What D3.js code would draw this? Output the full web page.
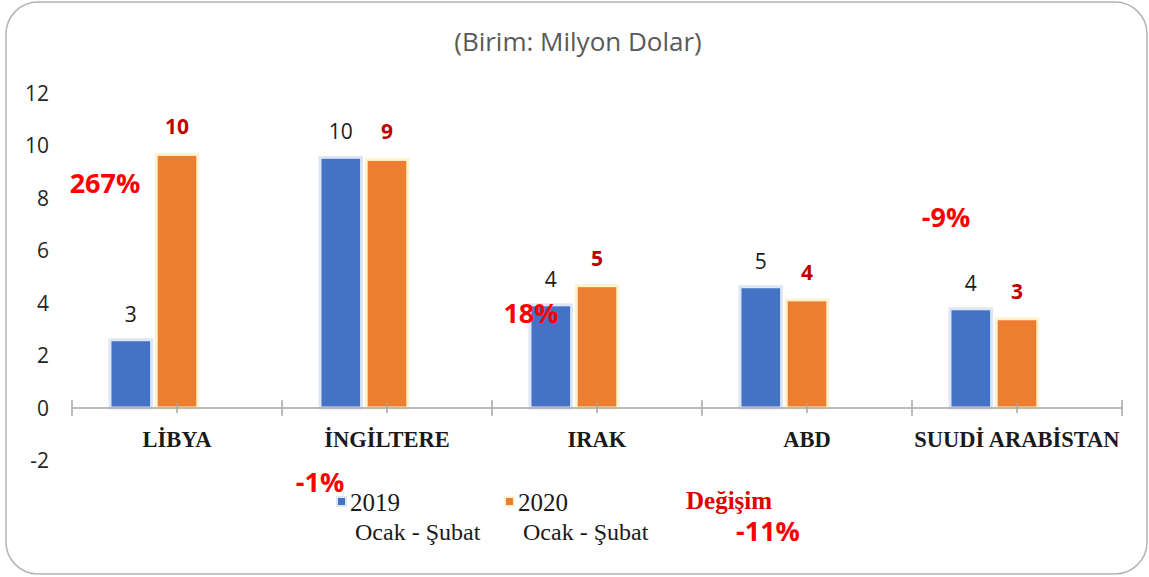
<!DOCTYPE html>
<html lang="en">
<head>
<meta charset="UTF-8">
<title>Birim: Milyon Dolar</title>
<style>
  body { margin: 0; background: #fff; }
  .sans { font-family: "Open Sans", "Noto Sans", sans-serif; }
  .serif { font-family: "Liberation Serif", "DejaVu Serif", serif; }
</style>
</head>
<body>
<svg class="chart"></svg>
<script src="https://d3js.org/d3.v7.min.js"></script>
<script>
// data
var categories = ['LİBYA', 'İNGİLTERE', 'IRAK', 'ABD', 'SUUDİ ARABİSTAN'];
var values2019 = [2.6, 9.55, 3.93, 4.62, 3.78];
var values2020 = [9.66, 9.47, 4.66, 4.12, 3.40];
var labels2019 = ['3', '10', '4', '5', '4'];
var labels2020 = ['10', '9', '5', '4', '3'];
var changeLabels = ['267%', '-1%', '18%', '-11%', '-9%'];
var yTicks = [-2, 0, 2, 4, 6, 8, 10, 12];
var seriesKeys = ['2019', '2020', 'Değişim'];

// where the hand-placed change labels sit: offset in band (px) and y value
var changePlace = [
  {dx: 33, y: 8.2},
  {dx: 38, y: -3.2},
  {dx: 39, y: 3.25},
  {dx: 66, y: -5.05},
  {dx: 34, y: 6.9}
];

var W = 1149, H = 577;

var svg = d3.select('.chart')
  .attr('width', W)
  .attr('height', H);

// frame
svg.append('rect')
  .attr('x', 6).attr('y', 2)
  .attr('width', 1141).attr('height', 572)
  .attr('rx', 32).attr('ry', 32)
  .attr('fill', '#fff')
  .attr('stroke', '#b4b4b4')
  .attr('stroke-width', 1.5);

var x0 = d3.scaleBand().domain(categories).range([72, 1122]);
var x1 = d3.scaleBand().domain(seriesKeys).range([38, 172]).paddingInner(0.1);
var y = d3.scaleLinear().domain([-2, 12]).range([460.5, 93]);

// title
svg.append('text')
  .attr('class', 'sans')
  .attr('x', 578).attr('y', 51)
  .attr('text-anchor', 'middle')
  .attr('font-size', 26)
  .attr('fill', '#595959')
  .text('(Birim: Milyon Dolar)');

// y tick labels
svg.append('g')
  .selectAll('text')
  .data(yTicks)
  .enter().append('text')
  .attr('class', 'sans')
  .attr('x', 49)
  .attr('y', d => y(d))
  .attr('dy', '0.36em')
  .attr('text-anchor', 'end')
  .attr('font-size', 21)
  .attr('fill', '#262626')
  .text(d => d);

// bars
var rows = categories.map((c, i) => ({cat: c, v19: values2019[i], v20: values2020[i], l19: labels2019[i], l20: labels2020[i]}));

var groups = svg.append('g').selectAll('g')
  .data(rows)
  .enter().append('g')
  .attr('transform', d => `translate(${x0(d.cat)},0)`);

function bar(g, key, field, fill, glow) {
  g.append('rect')
    .attr('x', x1(key))
    .attr('y', d => y(d[field]))
    .attr('width', x1.bandwidth())
    .attr('height', d => y(0) - y(d[field]))
    .attr('fill', fill)
    .attr('stroke', glow)
    .attr('stroke-width', 3);
}
bar(groups, '2019', 'v19', '#4472c4', '#dce6f5');
bar(groups, '2020', 'v20', '#ed7d31', '#fff2cc');

// value labels
groups.append('text')
  .attr('class', 'sans')
  .attr('x', x1('2019') + x1.bandwidth() / 2)
  .attr('y', d => y(d.v19) - 18)
  .attr('text-anchor', 'middle')
  .attr('font-size', 21)
  .attr('fill', '#1a1a1a')
  .text(d => d.l19);

groups.append('text')
  .attr('class', 'sans')
  .attr('x', x1('2020') + x1.bandwidth() / 2)
  .attr('y', d => y(d.v20) - 20)
  .attr('text-anchor', 'middle')
  .attr('font-size', 21)
  .attr('font-weight', 'bold')
  .attr('fill', '#c00000')
  .text(d => d.l20);

// zero axis
var axis = svg.append('g');
axis.append('line')
  .attr('x1', x0.range()[0]).attr('x2', x0.range()[1])
  .attr('y1', y(0)).attr('y2', y(0))
  .attr('stroke', '#a6a6a6').attr('stroke-width', 1.5);

var bounds = categories.map(c => x0(c)).concat([x0.range()[1]]);
axis.selectAll('.major')
  .data(bounds)
  .enter().append('line')
  .attr('x1', d => d).attr('x2', d => d)
  .attr('y1', y(0) - 8).attr('y2', y(0) + 8)
  .attr('stroke', '#a6a6a6').attr('stroke-width', 1.5);

axis.selectAll('.minor')
  .data(categories)
  .enter().append('line')
  .attr('x1', d => x0(d) + x0.bandwidth() / 2)
  .attr('x2', d => x0(d) + x0.bandwidth() / 2)
  .attr('y1', y(0) - 5).attr('y2', y(0) + 5)
  .attr('stroke', '#a6a6a6').attr('stroke-width', 1.5);

// category labels
axis.selectAll('.cat')
  .data(categories)
  .enter().append('text')
  .attr('class', 'serif')
  .attr('x', d => x0(d) + x0.bandwidth() / 2)
  .attr('y', y(0) + 39)
  .attr('text-anchor', 'middle')
  .attr('font-size', 22.5)
  .attr('font-weight', 'bold')
  .attr('fill', '#1a1a1a')
  .text(d => d);

// change labels, dragged around by hand in the original
svg.append('g').selectAll('text')
  .data(changeLabels)
  .enter().append('text')
  .attr('class', 'sans')
  .attr('x', (d, i) => x0(categories[i]) + changePlace[i].dx)
  .attr('y', (d, i) => y(changePlace[i].y))
  .attr('text-anchor', 'middle')
  .attr('font-size', 27)
  .attr('font-weight', 'bold')
  .attr('fill', '#ff0000')
  .text(d => d);

// legend
var legend = svg.append('g').attr('class', 'legend');
var legItems = [
  {key: '2019', x: 337, fill: '#4472c4', glow: '#dce6f5'},
  {key: '2020', x: 505, fill: '#ed7d31', glow: '#fff2cc'}
];
legItems.forEach(function (it) {
  legend.append('rect')
    .attr('x', it.x).attr('y', 497)
    .attr('width', 9).attr('height', 9)
    .attr('fill', it.fill)
    .attr('stroke', it.glow).attr('stroke-width', 2);
  legend.append('text')
    .attr('class', 'serif')
    .attr('x', it.x + 13).attr('y', 511)
    .attr('font-size', 25)
    .attr('fill', '#1a1a1a')
    .text(it.key);
  legend.append('text')
    .attr('class', 'serif')
    .attr('x', it.x + 18).attr('y', 540)
    .attr('font-size', 24)
    .attr('fill', '#1a1a1a')
    .text('Ocak - Şubat');
});
legend.append('text')
  .attr('class', 'serif')
  .attr('x', 686).attr('y', 509)
  .attr('font-size', 25)
  .attr('font-weight', 'bold')
  .attr('fill', '#e00000')
  .text(seriesKeys[2]);
</script>
</body>
</html>
